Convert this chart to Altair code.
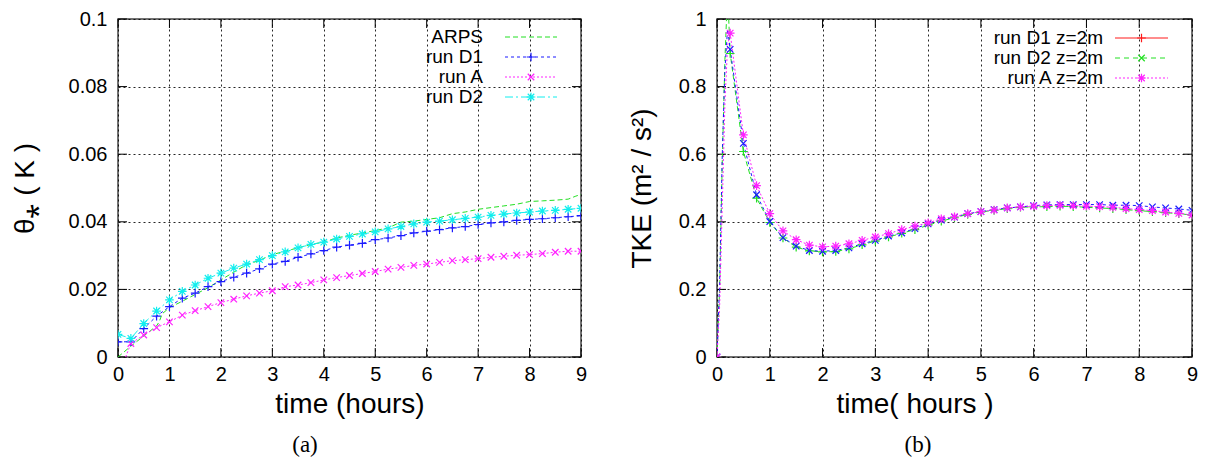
import altair as alt
import pandas as pd

# ---------------- data: panel (a) ----------------
T = [0, 0.25, 0.5, 0.75, 1, 1.25, 1.5, 1.75, 2, 2.25, 2.5, 2.75, 3, 3.25, 3.5, 3.75,
     4, 4.25, 4.5, 4.75, 5, 5.25, 5.5, 5.75, 6, 6.25, 6.5, 6.75, 7, 7.25, 7.5, 7.75,
     8, 8.25, 8.5, 8.75, 9]

arps_t = [0, 0.25, 0.5, 0.75, 0.8, 0.86, 1, 1.25, 1.5, 1.75, 2, 2.25, 2.5, 2.75, 3, 3.25,
          3.5, 3.75, 4, 4.25, 4.5, 4.75, 5, 5.25, 5.5, 5.75, 6, 6.25, 6.5, 6.75, 7, 7.25,
          7.5, 7.75, 8, 8.25, 8.5, 8.75, 8.9, 9]
arps_v = [0, 0.0032, 0.0062, 0.0092, 0.0104, 0.0128, 0.0146, 0.0165, 0.0185, 0.0205,
          0.0228, 0.0251, 0.0273, 0.0286, 0.0303, 0.0313, 0.0323, 0.0333, 0.0340, 0.0352,
          0.0360, 0.0367, 0.0374, 0.0382, 0.0399, 0.0402, 0.0407, 0.0412, 0.0424, 0.0429,
          0.0437, 0.0442, 0.0447, 0.0452, 0.0460, 0.0462, 0.0464, 0.0467, 0.0476, 0.0481]

d1_v = [0.0045, 0.0045, 0.0084, 0.0121, 0.0149, 0.0174, 0.0189, 0.0208, 0.0223, 0.0236,
        0.0248, 0.0261, 0.0275, 0.0283, 0.0295, 0.0305, 0.0315, 0.0325, 0.0331, 0.0336,
        0.0347, 0.0352, 0.0359, 0.0367, 0.0372, 0.0377, 0.0382, 0.0386, 0.0392, 0.0397,
        0.0400, 0.0404, 0.0407, 0.0409, 0.0412, 0.0415, 0.0418]

a_t = [0.15] + T[1:]
a_v = [0, 0.0040, 0.0065, 0.0087, 0.0104, 0.0124, 0.0137, 0.0149, 0.0161, 0.0171, 0.0181,
       0.0189, 0.0196, 0.0208, 0.0213, 0.0220, 0.0228, 0.0235, 0.0241, 0.0247, 0.0253,
       0.0260, 0.0265, 0.0271, 0.0275, 0.0280, 0.0285, 0.0288, 0.0291, 0.0295, 0.0298,
       0.0301, 0.0303, 0.0306, 0.0310, 0.0313, 0.0313]

d2_v = [0.0067, 0.0055, 0.0099, 0.0136, 0.0169, 0.0194, 0.0213, 0.0233, 0.0248, 0.0263,
        0.0275, 0.0288, 0.0300, 0.0311, 0.0323, 0.0333, 0.0340, 0.0349, 0.0357, 0.0364,
        0.0370, 0.0379, 0.0386, 0.0394, 0.0399, 0.0402, 0.0406, 0.0410, 0.0414, 0.0419,
        0.0423, 0.0426, 0.0429, 0.0432, 0.0434, 0.0437, 0.0440]

# ---------------- data: panel (b) ----------------
T2 = [0, 0.05, 0.1, 0.15, 0.2, 0.25, 0.5, 0.75, 1, 1.25, 1.5, 1.75, 2, 2.25, 2.5, 2.75,
      3, 3.25, 3.5, 3.75, 4, 4.25, 4.5, 4.75, 5, 5.25, 5.5, 5.75, 6, 6.25, 6.5, 6.75,
      7, 7.25, 7.5, 7.75, 8, 8.25, 8.5, 8.75, 9]
tke_d1 = [0, 0.20, 0.58, 0.88, 1.08, 0.898, 0.608, 0.470, 0.398, 0.352, 0.325, 0.314,
          0.311, 0.312, 0.320, 0.332, 0.343, 0.355, 0.366, 0.377, 0.390, 0.402, 0.412,
          0.422, 0.429, 0.434, 0.439, 0.443, 0.444, 0.445, 0.446, 0.445, 0.443, 0.441,
          0.439, 0.436, 0.433, 0.430, 0.427, 0.424, 0.420]
tke_d2 = [0, 0.22, 0.60, 0.85, 0.97, 0.910, 0.632, 0.480, 0.401, 0.353, 0.328, 0.315,
          0.313, 0.315, 0.323, 0.335, 0.345, 0.358, 0.367, 0.380, 0.394, 0.405, 0.414,
          0.424, 0.430, 0.436, 0.441, 0.444, 0.448, 0.450, 0.451, 0.451, 0.451, 0.451,
          0.449, 0.449, 0.448, 0.444, 0.441, 0.438, 0.434]
tke_a = [0, 0.15, 0.45, 0.75, 0.92, 0.958, 0.657, 0.507, 0.424, 0.373, 0.347, 0.331,
         0.326, 0.328, 0.335, 0.345, 0.355, 0.365, 0.377, 0.387, 0.397, 0.409, 0.415,
         0.424, 0.430, 0.435, 0.441, 0.444, 0.446, 0.448, 0.449, 0.448, 0.446, 0.445,
         0.443, 0.439, 0.436, 0.433, 0.429, 0.425, 0.420]

x_ticks = [0, 1, 2, 3, 4, 5, 6, 7, 8, 9]
y_ticks_a = [0, 0.02, 0.04, 0.06, 0.08, 0.1]
y_ticks_b = [0, 0.2, 0.4, 0.6, 0.8, 1]

names_a = ["ARPS", "run D1", "run A", "run D2"]
names_b = ["run D1 z=2m", "run D2 z=2m", "run A z=2m"]

# ---------------- styles ----------------
FONT = "Liberation Sans"
PLUS = "M-1,0L1,0M0,-1L0,1"
XMARK = "M-0.75,-0.75L0.75,0.75M-0.75,0.75L0.75,-0.75"
STAR = "M-1,0L1,0M0,-1L0,1M-0.75,-0.75L0.75,0.75M-0.75,0.75L0.75,-0.75"

style_a = {
    "ARPS": ("#22e022", [5, 3], None),
    "run D1": ("#1a1aff", [3, 3], PLUS),
    "run A": ("#ff22ff", [2, 2], XMARK),
    "run D2": ("#11eeee", [8, 3, 2, 3], STAR),
}
style_b = {
    "run D1 z=2m": ("#ff1a1a", [1, 0], PLUS),
    "run D2 z=2m": ("#22e022", [5, 4], XMARK),
    "run A z=2m": ("#ff22ff", [2, 2], STAR),
}


def long_df(parts):
    rows = []
    for name, ts, vs in parts:
        for t, v in zip(ts, vs):
            rows.append({"t": t, "v": v, "series": name})
    return pd.DataFrame(rows)


df_a = long_df([("ARPS", arps_t, arps_v), ("run D1", T, d1_v),
                ("run A", a_t, a_v), ("run D2", T, d2_v)])
df_b = long_df([("run D1 z=2m", T2, tke_d1), ("run D2 z=2m", T2, tke_d2),
                ("run A z=2m", T2, tke_a)])

MSIZE = 75


def panel(df, names, style, ymax, yticks, ytitle, xtitle, W, H,
          leg_text_x, leg_x1, leg_x2, leg_rows, caption, cap_x, ytitle_pad, xtitle_off=0):
    xax = alt.Axis(values=x_ticks, format="~g", title=xtitle, grid=True,
                   gridColor="black", gridDash=[2, 3], gridOpacity=0.85, gridWidth=1,
                   ticks=False, domain=False, labelFont=FONT, labelFontSize=20,
                   labelColor="black", labelPadding=7, labelFlush=False,
                   titleFont=FONT, titleFontSize=28, titleFontWeight="normal",
                   titleColor="black", titlePadding=6, titleX=W / 2 + xtitle_off)
    yax = alt.Axis(values=yticks, format="~g", title=ytitle, grid=True,
                   gridColor="black", gridDash=[2, 3], gridOpacity=0.85, gridWidth=1,
                   ticks=False, domain=False, labelFont=FONT, labelFontSize=20,
                   labelColor="black", labelPadding=11, labelFlush=False,
                   titleFont=FONT, titleFontSize=28, titleFontWeight="normal",
                   titleColor="black", titlePadding=ytitle_pad)
    xs = alt.Scale(domain=[0, 9], nice=False, zero=False)
    ys = alt.Scale(domain=[0, ymax], nice=False, zero=False)
    col = alt.Color("series:N", legend=None,
                    scale=alt.Scale(domain=names, range=[style[n][0] for n in names]))
    dash = alt.StrokeDash("series:N", legend=None,
                          scale=alt.Scale(domain=names, range=[style[n][1] for n in names]))
    mk_names = [n for n in names if style[n][2] is not None]
    shp = alt.Shape("series:N", legend=None,
                    scale=alt.Scale(domain=mk_names, range=[style[n][2] for n in mk_names]))

    base = alt.Chart(df)
    lines = base.mark_line(clip=True, strokeWidth=1).encode(
        x=alt.X("t:Q", scale=xs, axis=xax), y=alt.Y("v:Q", scale=ys, axis=yax),
        color=col, strokeDash=dash, order="t:Q")
    pts = base.transform_filter(
        "abs(datum.t*4 - round(datum.t*4)) < 1e-6 && indexof(%s, datum.series) >= 0"
        % str(mk_names)
    ).mark_point(clip=True, filled=False, strokeWidth=1.2, size=MSIZE, opacity=1).encode(
        x=alt.X("t:Q", scale=xs), y=alt.Y("v:Q", scale=ys), color=col, shape=shp)

    xt = alt.Chart(pd.DataFrame({"t": x_ticks}))
    yt = alt.Chart(pd.DataFrame({"v": yticks}))
    tick_layers = [
        xt.mark_rule(color="black", strokeWidth=1).encode(
            x=alt.X("t:Q", scale=xs), y=alt.value(H), y2=alt.value(H - 9)),
        xt.mark_rule(color="black", strokeWidth=1).encode(
            x=alt.X("t:Q", scale=xs), y=alt.value(0), y2=alt.value(9)),
        yt.mark_rule(color="black", strokeWidth=1).encode(
            y=alt.Y("v:Q", scale=ys), x=alt.value(0), x2=alt.value(9)),
        yt.mark_rule(color="black", strokeWidth=1).encode(
            y=alt.Y("v:Q", scale=ys), x=alt.value(W - 9), x2=alt.value(W)),
    ]

    leg = []
    for n, ry in zip(names, leg_rows):
        c, d, s = style[n]
        one = alt.Chart(pd.DataFrame({"label": [n]}))
        leg.append(one.mark_text(align="right", baseline="middle", font=FONT,
                                 fontSize=19, color="black").encode(
            text="label:N", x=alt.value(leg_text_x), y=alt.value(ry)))
        leg.append(one.mark_rule(color=c, strokeDash=d, strokeWidth=1).encode(
            x=alt.value(leg_x1), x2=alt.value(leg_x2), y=alt.value(ry)))
        if s is not None:
            leg.append(one.mark_point(shape=s, filled=False, color=c, size=MSIZE,
                                      strokeWidth=1.2, opacity=1).encode(
                x=alt.value((leg_x1 + leg_x2) / 2), y=alt.value(ry)))

    cap = alt.Chart(pd.DataFrame({"cap": [caption]})).mark_text(
        font="Liberation Serif", fontSize=23, baseline="middle", color="black").encode(
        text="cap:N", x=alt.value(cap_x), y=alt.value(H + 88))

    return alt.layer(*tick_layers, lines, pts, *leg, cap).properties(width=W, height=H)


left = panel(df_a, names_a, style_a, 0.1, y_ticks_a, "θ⁎ ( K )", "time (hours)",
             463, 338, 365, 387, 439, [18, 38, 58, 78], "(a)", 187, 29)
right = panel(df_b, names_b, style_b, 1, y_ticks_b, "TKE (m² / s²)", "time( hours )",
              475, 338, 386, 398, 451, [19, 39, 59], "(b)", 201, 22, xtitle_off=-40)

chart = alt.hconcat(left, right, spacing=39).properties(
    padding={"left": 10, "top": 8, "right": 6, "bottom": 0},
    background="white",
).configure_view(stroke="#444", strokeWidth=1.5)

chart.save("out.html", embed_options={"renderer": "svg", "actions": False})
